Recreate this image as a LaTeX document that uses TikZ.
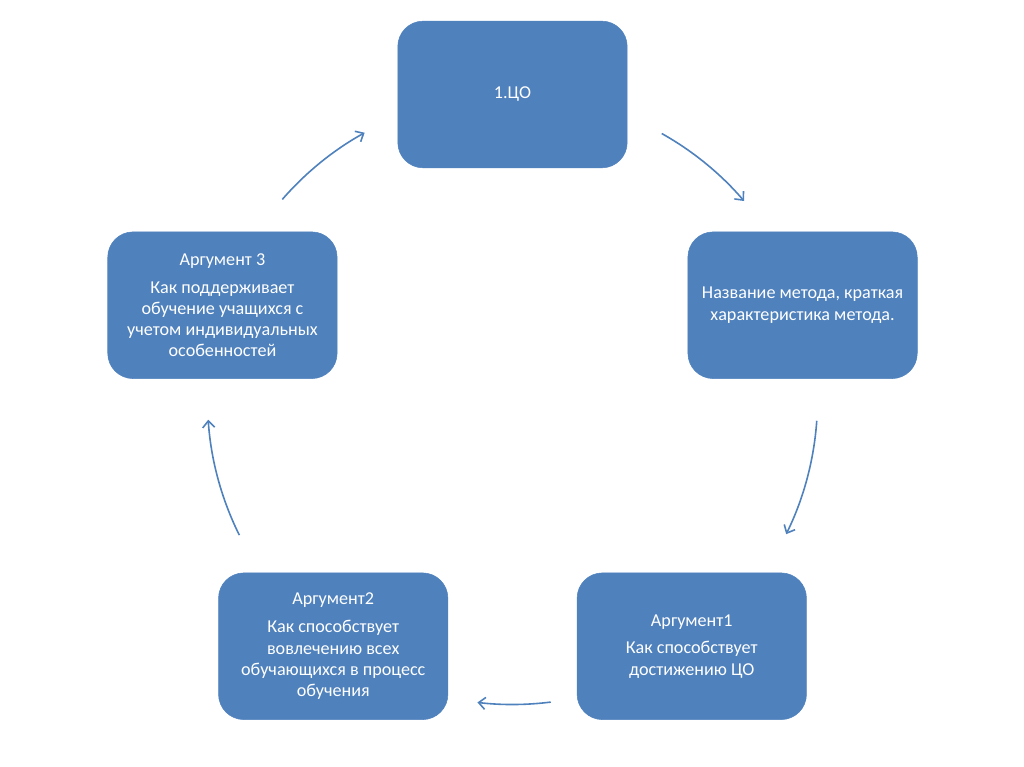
\documentclass[tikz,border=0pt]{standalone}
\usepackage{fontspec}
\setmainfont{Carlito}
\usetikzlibrary{arrows.meta,calc}
\definecolor{box_blue}{RGB}{79, 129, 189}
\tikzstyle{bx}=[rectangle,rounded corners=19pt,fill=box_blue,draw=box_blue,
  text=white,align=center,minimum width=172pt,minimum height=110pt,
  font=\fontsize{13.6}{15.9}\selectfont]
\tikzstyle{ar}=[draw=box_blue,line width=1.2pt,-{Straight Barb[length=5pt,width=9pt]}]

\begin{document}
\begin{tikzpicture}[x=0.75pt, y=0.75pt]
        \useasboundingbox (0, 0) rectangle (1024, 767);
        \coordinate (c) at (512.5, 367.5);
        % boxes
        \node[style=bx] (co) at ($(c)+(90:305)$) {1.ЦО};
        \node[style=bx] (metod) at ($(c)+(18:305)$) {Название метода, краткая\\ характеристика метода.};
        \node[style=bx] (arg1) at ($(c)+(-54:305)$) {Аргумент1\\[5pt] Как способствует\\ достижению ЦО};
        \node[style=bx] (arg2) at ($(c)+(-126:305)$) {Аргумент2\\[5pt] Как способствует\\ вовлечению всех\\ обучающихся в процесс\\ обучения};
        \node[style=bx] (arg3) at ($(c)+(162:305)$) {Аргумент 3\\[5pt] Как поддерживает\\ обучение учащихся с\\ учетом индивидуальных\\ особенностей};
        % arrows round the cycle
        \coordinate (s1) at ($(c)+(60.7:305)$);
        \coordinate (s2) at ($(c)+(-4:305)$);
        \coordinate (s3) at ($(c)+(-82.8:305)$);
        \coordinate (s4) at ($(c)+(206.4:305)$);
        \coordinate (s5) at ($(c)+(139:305)$);
        \draw[style=ar] (s1) arc[start angle=60.7, end angle=40.6, radius=228.75pt];
        \draw[style=ar] (s2) arc[start angle=-4, end angle=-26.2, radius=228.75pt];
        \draw[style=ar] (s3) arc[start angle=-82.8, end angle=-96.6, radius=228.75pt];
        \draw[style=ar] (s4) arc[start angle=206.4, end angle=183.8, radius=228.75pt];
        \draw[style=ar] (s5) arc[start angle=139, end angle=119, radius=228.75pt];
    \end{tikzpicture}
\end{document}
